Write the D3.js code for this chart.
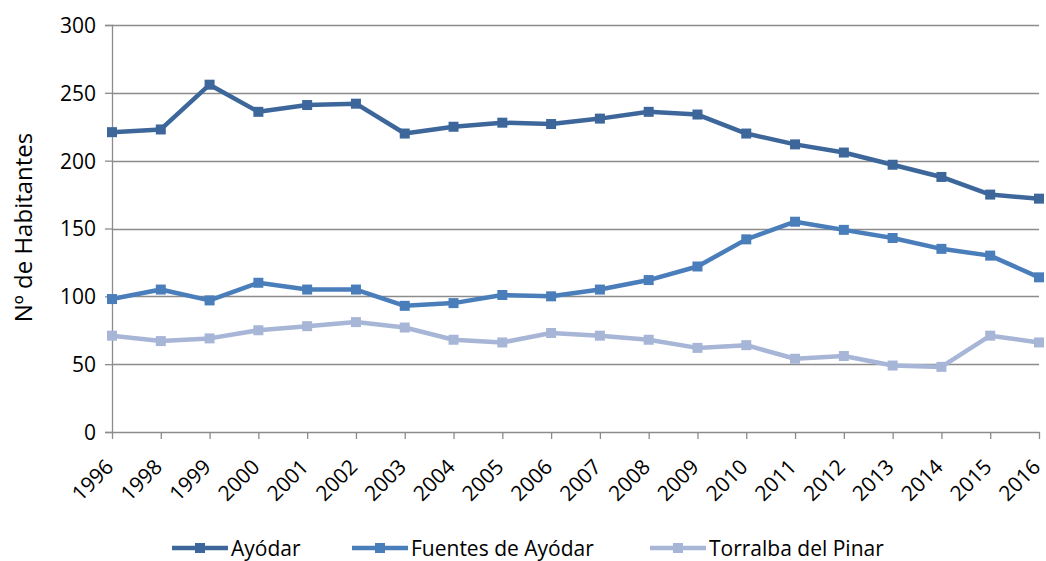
<!DOCTYPE html>
<html>
<head>
<meta charset="utf-8">
<script src="https://d3js.org/d3.v7.min.js"></script>
<style>
  body { margin: 0; background: #fff; }
  text { font-family: "Open Sans", "Liberation Sans", Arial, sans-serif; fill: #000; }
</style>
</head>
<body>
<div class="chart"></div>
<script>
var years = ["1996","1998","1999","2000","2001","2002","2003","2004","2005","2006",
             "2007","2008","2009","2010","2011","2012","2013","2014","2015","2016"];
var ayodar   = [221,223,256,236,241,242,220,225,228,227,231,236,234,220,212,206,197,188,175,172];
var fuentes  = [98,105,97,110,105,105,93,95,101,100,105,112,122,142,155,149,143,135,130,114];
var torralba = [71,67,69,75,78,81,77,68,66,73,71,68,62,64,54,56,49,48,71,66];
var yTicks = [0,50,100,150,200,250,300];

var series = [
  { name: "Ayódar", values: ayodar, color: "#3d679b" },
  { name: "Fuentes de Ayódar", values: fuentes, color: "#4a7ebb" },
  { name: "Torralba del Pinar", values: torralba, color: "#a7b6d6" }
];

var margin = { top: 25, right: 7, bottom: 129, left: 112 };
var width = 1046 - margin.left - margin.right;
var height = 561 - margin.top - margin.bottom;

var x = d3.scalePoint()
    .domain(years)
    .range([0, width]);

var y = d3.scaleLinear()
    .domain([0, 300])
    .range([height, 0]);

var svg = d3.select(".chart").append("svg")
    .attr("width", 1046)
    .attr("height", 561)
  .append("g")
    .attr("transform", "translate(" + margin.left + "," + margin.top + ")");

// gridlines
svg.selectAll(".grid")
    .data(yTicks.filter(function(d){ return d > 0; }))
  .enter().append("line")
    .attr("class", "grid")
    .attr("x1", 0)
    .attr("x2", width)
    .attr("y1", function(d){ return Math.round(y(d)) + 0.5; })
    .attr("y2", function(d){ return Math.round(y(d)) + 0.5; })
    .attr("stroke", "#8c8c8c")
    .attr("stroke-width", 1.3);

var yAxis = d3.axisLeft(y)
    .tickValues(yTicks)
    .tickSize(7)
    .tickPadding(9);

var yg = svg.append("g")
    .attr("class", "y axis")
    .call(yAxis);
yg.select(".domain").attr("stroke", "#8c8c8c").attr("stroke-width", 1.3);
yg.selectAll(".tick line").attr("stroke", "#8c8c8c").attr("stroke-width", 1.3);
yg.selectAll(".tick text").style("font-size", "21px").attr("dy", "0.35em");

var xAxis = d3.axisBottom(x)
    .tickSize(7)
    .tickSizeOuter(0);

var xg = svg.append("g")
    .attr("class", "x axis")
    .attr("transform", "translate(0," + height + ")")
    .call(xAxis);
xg.select(".domain").attr("stroke", "#8c8c8c").attr("stroke-width", 1.3);
xg.selectAll(".tick line").attr("stroke", "#8c8c8c").attr("stroke-width", 1.3);
xg.selectAll(".tick text")
    .style("font-size", "21px")
    .style("text-anchor", "end")
    .attr("x", 0)
    .attr("y", 0)
    .attr("dy", "0.35em")
    .attr("transform", "translate(-3,31) rotate(-45)");

svg.append("text")
    .attr("transform", "rotate(-90)")
    .attr("x", -(y(150)) + 1)
    .attr("y", -80)
    .style("text-anchor", "middle")
    .style("font-size", "24px")
    .text("Nº de Habitantes");

var line = d3.line()
    .x(function(d, i){ return x(years[i]); })
    .y(function(d){ return y(d); });

series.forEach(function(s) {
  svg.append("path")
      .datum(s.values)
      .attr("fill", "none")
      .attr("stroke", s.color)
      .attr("stroke-width", 4.5)
      .attr("stroke-linejoin", "round")
      .attr("d", line);

  svg.selectAll(".m-" + s.name.length)
      .data(s.values)
    .enter().append("rect")
      .attr("x", function(d, i){ return x(years[i]) - 5; })
      .attr("y", function(d){ return y(d) - 5; })
      .attr("width", 10)
      .attr("height", 10)
      .attr("fill", s.color);
});

// legend
var legendX = [172, 352, 650];
var legend = d3.select("svg").selectAll(".legend")
    .data(series)
  .enter().append("g")
    .attr("class", "legend")
    .attr("transform", function(d, i){ return "translate(" + legendX[i] + ",548)"; });

legend.append("line")
    .attr("x1", 0)
    .attr("x2", 56)
    .attr("stroke", function(d){ return d.color; })
    .attr("stroke-width", 4.5);
legend.append("rect")
    .attr("x", 23)
    .attr("y", -5)
    .attr("width", 10)
    .attr("height", 10)
    .attr("fill", function(d){ return d.color; });
legend.append("text")
    .attr("x", 59)
    .attr("y", 8)
    .style("font-size", "21px")
    .text(function(d){ return d.name; });
</script>
</body>
</html>
